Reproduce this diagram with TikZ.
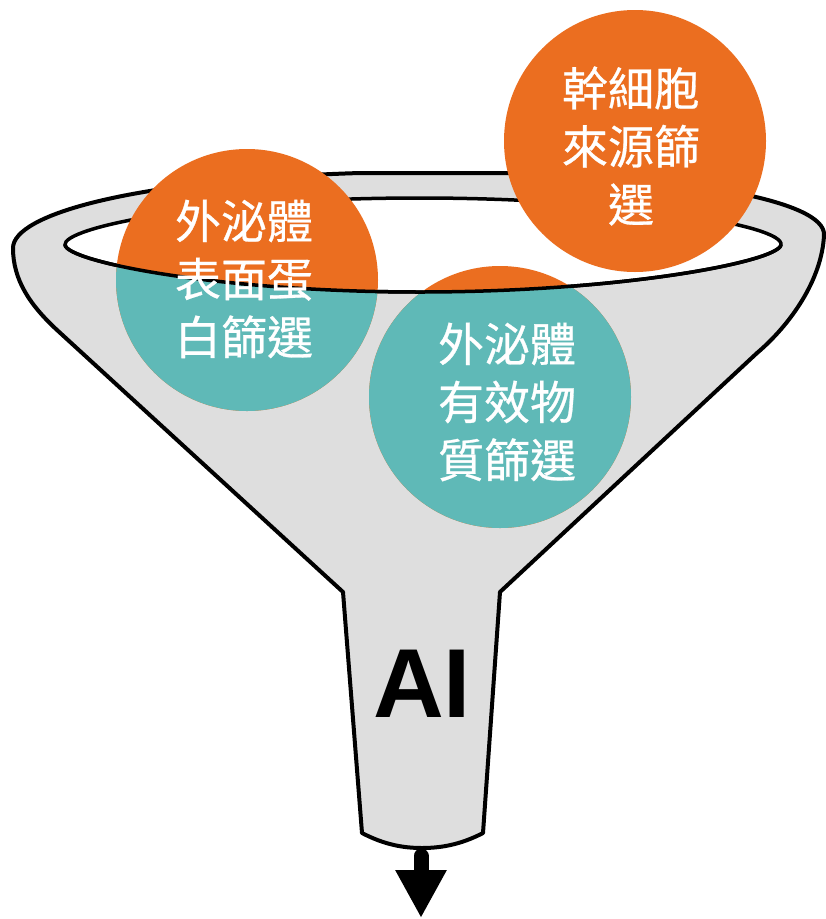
\documentclass[tikz,border=0pt]{standalone}
\usepackage{fontspec}
\setmainfont{Liberation Sans}
\newfontfamily\cjk[FakeBold=0.6]{Noto Sans CJK TC}
\usepackage{tikz}
\usetikzlibrary{arrows.meta}

\definecolor{funnelgray}{HTML}{DEDEDE}
\definecolor{ballorange}{HTML}{EB6E20}
\definecolor{ballteal}{HTML}{5FB9B7}

% front edge of the opening, and the region under it
\newcommand{\rimfront}{(781,245) .. controls (777,262) and (620,292) .. (420,292) .. controls (220,292) and (68,262) .. (65,245)}
\newcommand{\belowrim}{\rimfront -- (0,245) -- (0,919) -- (826,919) -- (826,245) -- cycle}

\begin{document}
\begin{tikzpicture}[x=1pt, y=-1pt,
	ball/.style={circle, fill=ballorange, minimum size=262, inner sep=0pt},
	balltext/.style={text=white, align=center, font=\cjk\fontsize{46}{58}\selectfont},
	rim/.style={draw=black, line width=3.5}]
			\useasboundingbox (0,0) rectangle (826,919);
			
			% funnel body
			\draw[rim, line width=4, fill=funnelgray, line join=round] (343,592) -- (57,330) .. controls (30,305) and (13,280) .. (13,248) .. controls (13,215) and (130,180) .. (360,173) -- (500,173) .. controls (680,175) and (826,200) .. (824,235) .. controls (822,280) and (790,325) .. (757,353) -- (500,592) -- (483,833) .. controls (460,845) and (440,848) .. (422,848) .. controls (404,848) and (385,845) .. (362,833) -- cycle;
			\draw[rim, fill=white] (65,245) .. controls (62,228) and (200,198) .. (420,198) .. controls (620,198) and (785,225) .. (781,245) .. controls (777,262) and (620,292) .. (420,292) .. controls (220,292) and (68,262) .. (65,245) -- cycle;
			
			\node[ball] (surface) at (247,280){};
			\begin{scope}
				\clip (surface.center) circle[radius=131];
				\fill[ballteal] \belowrim;
			\end{scope}
			\node[ball] (cargo) at (500,397){};
			\begin{scope}
				\clip (cargo.center) circle[radius=131];
				\fill[ballteal] \belowrim;
			\end{scope}
			\node[ball] (source) at (635,141){};
			
			\draw[rim] \rimfront;
			
			\node[balltext] (surfacetext) at (244,279){外泌體\\表面蛋\\白篩選};
			\node[balltext] (cargotext) at (507,402){外泌體\\有效物\\質篩選};
			\node[balltext] (sourcetext) at (631,146){幹細胞\\來源篩\\選};
			
			\node[font=\bfseries\fontsize{98}{98}\selectfont, inner sep=0pt] (ai) at (422,684){AI};
			
			\coordinate (spout) at (421,856);
			\coordinate (out) at (421,918);
			\draw[line width=15, line cap=round, -{Triangle[width=48pt, length=48pt]}] (spout) -- (out);
\end{tikzpicture}
\end{document}
